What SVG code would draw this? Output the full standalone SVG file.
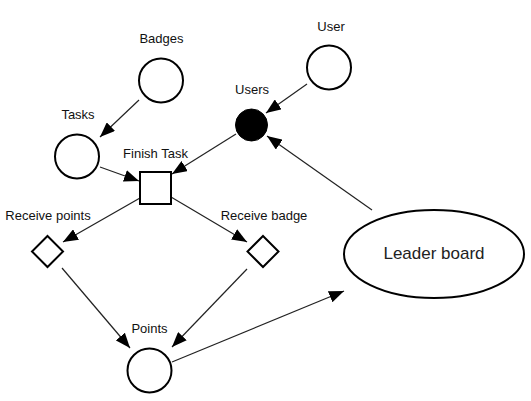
<svg xmlns="http://www.w3.org/2000/svg" width="531" height="401" viewBox="0 0 531 401">
<defs>
<marker id="ah" markerUnits="userSpaceOnUse" markerWidth="16" markerHeight="12" refX="15" refY="6" orient="auto">
<path d="M0,0 L15,6 L0,12 z" fill="#000"/>
</marker>
<style>
.n{fill:#fff;stroke:#000;stroke-width:2}
.lbl{font-family:"Liberation Sans",Arial,sans-serif;font-size:13px;fill:#111;text-anchor:middle}
.big{font-family:"Liberation Sans",Arial,sans-serif;font-size:17px;fill:#222;text-anchor:middle}
.c{stroke:#222;stroke-width:1.2;fill:none;marker-end:url(#ah)}
</style>
</defs>
<rect width="531" height="401" fill="#fff"/>
<g id="connectors">
<line class="c" x1="139" y1="100" x2="100" y2="137"/>
<line class="c" x1="100" y1="167" x2="139" y2="181"/>
<line class="c" x1="236" y1="134" x2="172" y2="174"/>
<line class="c" x1="307" y1="84" x2="266" y2="113"/>
<line class="c" x1="372" y1="210" x2="267" y2="136"/>
<line class="c" x1="140" y1="198" x2="63" y2="242"/>
<line class="c" x1="171" y1="197" x2="247" y2="242"/>
<line class="c" x1="62" y1="268" x2="130" y2="348"/>
<line class="c" x1="247" y1="269" x2="172" y2="347"/>
<line class="c" x1="172" y1="362" x2="344" y2="291"/>
</g>
<g id="badges"><circle class="n" cx="161" cy="80.5" r="22"/><text class="lbl" x="161.5" y="43">Badges</text></g>
<g id="tasks"><circle class="n" cx="77" cy="156.5" r="22"/><text class="lbl" x="78" y="119">Tasks</text></g>
<g id="user"><circle class="n" cx="329" cy="67.5" r="22"/><text class="lbl" x="331" y="31">User</text></g>
<g id="users"><circle cx="251.5" cy="125" r="16" fill="#000" stroke="#000" stroke-width="1"/><text class="lbl" x="252" y="94">Users</text></g>
<g id="finish-task"><rect class="n" x="140" y="172" width="31" height="32"/><text class="lbl" x="155.5" y="158">Finish Task</text></g>
<g id="receive-points"><polygon class="n" points="47.5,236 63,251.5 47.5,267 32,251.5"/><text class="lbl" x="48" y="220">Receive points</text></g>
<g id="receive-badge"><polygon class="n" points="263,236 278.5,251.5 263,267 247.5,251.5"/><text class="lbl" x="264" y="220">Receive badge</text></g>
<g id="points"><circle class="n" cx="149.5" cy="370.5" r="22"/><text class="lbl" x="149.5" y="333">Points</text></g>
<g id="leader-board"><ellipse class="n" cx="434" cy="254" rx="90" ry="44"/><text class="big" x="434" y="259">Leader board</text></g>
</svg>
